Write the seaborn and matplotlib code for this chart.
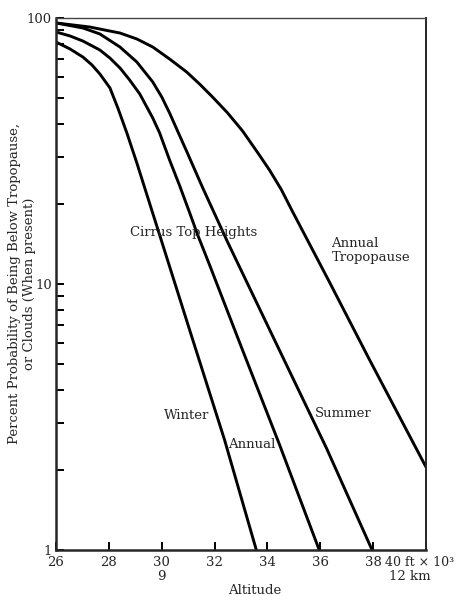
import matplotlib
matplotlib.use("Agg")
import matplotlib.pyplot as plt
import pandas as pd
import seaborn as sns
from matplotlib.ticker import FixedLocator, NullFormatter

# Values (altitude in ft x 1000, percent)
tropo_alt = [26.0, 27.28, 27.85, 28.42, 29.06, 29.66, 30.30, 30.94, 31.43, 31.92, 32.49, 33.06,
             33.62, 34.08, 34.53, 34.94, 36.34, 37.85, 40.0]
tropo_pct = [95.8, 92.5, 90.1, 87.8, 83.4, 77.8, 70.1, 62.7, 56.5, 50.5, 44.0, 37.6,
             31.3, 26.8, 22.6, 18.8, 10.2, 5.22, 2.05]

summer_alt = [26.0, 27.02, 27.66, 28.42, 29.06, 29.66, 30.0, 30.30, 30.60, 30.94, 31.55, 32.49,
              34.45, 36.23, 37.96]
summer_pct = [95.8, 91.7, 87.1, 77.8, 68.3, 57.5, 50.5, 43.9, 37.6, 31.6, 23.0, 14.4,
              5.65, 2.42, 1.0]

annual_alt = [26.0, 26.53, 27.02, 27.66, 28.04, 28.42, 28.79, 29.17, 29.66, 29.92, 30.30, 30.68,
              31.06, 31.36, 31.81, 32.94, 34.45, 35.96]
annual_pct = [88.6, 85.6, 81.9, 75.8, 70.7, 64.9, 58.4, 51.8, 42.1, 37.0, 29.2, 23.4,
              18.5, 15.3, 11.8, 6.05, 2.50, 1.0]

winter_alt = [26.0, 26.53, 27.02, 27.36, 27.66, 28.04, 28.34, 28.68, 29.06, 29.43, 29.92, 31.13,
              32.38, 33.58]
winter_pct = [81.2, 76.5, 71.3, 66.6, 61.6, 54.6, 45.9, 37.0, 28.5, 21.8, 15.3, 6.37,
              2.59, 1.0]

x_ticks = [26, 28, 30, 32, 34, 36, 38, 40]
x_ticklabels = ["26", "28", "30", "32", "34", "36", "38", ""]

frames = []
for name, a, p in [("Tropopause", tropo_alt, tropo_pct),
                   ("Summer", summer_alt, summer_pct),
                   ("Annual", annual_alt, annual_pct),
                   ("Winter", winter_alt, winter_pct)]:
    frames.append(pd.DataFrame({"alt": a, "pct": p, "curve": name}))
df = pd.concat(frames, ignore_index=True)

sns.set_style("ticks")
plt.rcParams["font.family"] = ["DejaVu Serif"]
plt.rcParams["font.size"] = 9.5

fig = plt.figure(figsize=(4.58, 5.96), dpi=100)
ax = fig.add_axes([56 / 458, 1 - 550 / 596, 370 / 458, 532 / 596])

sns.lineplot(data=df, x="alt", y="pct", hue="curve", units="curve", estimator=None,
             sort=False, palette=["black"] * 4, linewidth=2.1, legend=False, ax=ax)

ax.set_yscale("log")
ax.set_xlim(26, 40)
ax.set_ylim(1, 100)

# ticks
ax.set_xticks(x_ticks)
ax.set_xticklabels(x_ticklabels)
ax.set_yticks([1, 10, 100])
ax.set_yticklabels(["1", "10", "100"])
ax.yaxis.set_minor_locator(FixedLocator([2, 3, 4, 5, 6, 7, 8, 9, 20, 30, 40, 50, 60, 70, 80, 90]))
ax.yaxis.set_minor_formatter(NullFormatter())
ax.tick_params(axis="both", which="both", direction="in", width=1.4, labelsize=9.5, color="black")
ax.tick_params(axis="x", which="major", length=6, pad=4)
ax.tick_params(axis="y", which="major", length=6, pad=3)
ax.tick_params(axis="y", which="minor", length=6)
ax.tick_params(axis="x", which="minor", length=0)

for side in ["left", "bottom"]:
    ax.spines[side].set_linewidth(1.8)
ax.spines["right"].set_linewidth(1.4)
ax.spines["top"].set_linewidth(1.0)
ax.spines["top"].set_color("#444444")

ax.set_xlabel("")
ax.set_ylabel("Percent Probability of Being Below Tropopause,\nor Clouds (When present)",
              fontsize=9.5, linespacing=1.2)
ax.yaxis.set_label_coords(-0.054, 0.5)

# curve labels
ax.text(31.2, 15.6, "Cirrus Top Heights", ha="center", va="center")
ax.text(36.42, 13.4, "Annual\nTropopause", ha="left", va="center", linespacing=1.1)
ax.text(36.85, 3.27, "Summer", ha="center", va="center")
ax.text(30.96, 3.19, "Winter", ha="center", va="center")
ax.text(33.42, 2.50, "Annual", ha="center", va="center")

# axis extras below the plot
ax.annotate("40 ft × 10³", xy=(38.45, 0), xycoords=("data", "axes fraction"),
            xytext=(0, -12), textcoords="offset pixels", ha="left", va="center",
            fontsize=9, annotation_clip=False)
ax.annotate("9", xy=(30, 0), xycoords=("data", "axes fraction"),
            xytext=(0, -27), textcoords="offset pixels", ha="center", va="center",
            annotation_clip=False)
ax.annotate("12 km", xy=(39.37, 0), xycoords=("data", "axes fraction"),
            xytext=(0, -27), textcoords="offset pixels", ha="center", va="center",
            annotation_clip=False)
ax.annotate("Altitude", xy=(33.5, 0), xycoords=("data", "axes fraction"),
            xytext=(0, -40), textcoords="offset pixels", ha="center", va="center",
            annotation_clip=False)

fig.savefig("out.png", dpi=100)
